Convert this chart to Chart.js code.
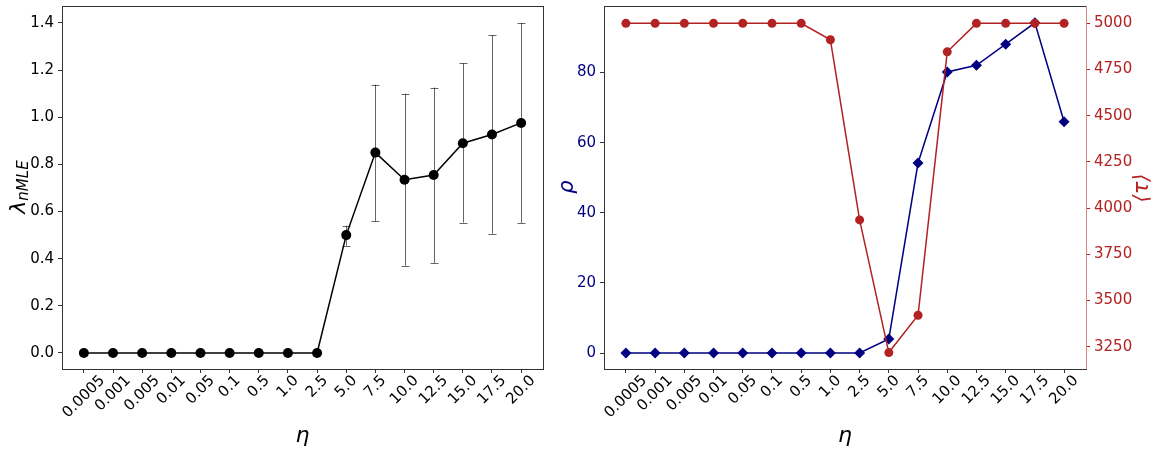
<!DOCTYPE html>
<html>
<head>
<meta charset="utf-8">
<script src="https://cdn.jsdelivr.net/npm/chart.js@4/dist/chart.umd.min.js"></script>
<style>
  html, body { margin: 0; padding: 0; background: #fff; }
  body { width: 1163px; height: 456px; position: relative; overflow: hidden; }
  canvas { position: absolute; top: 0; }
  #left { left: 0; }
  #right { left: 560px; }
</style>
</head>
<body>
<canvas id="left" width="560" height="456"></canvas>
<canvas id="right" width="603" height="456"></canvas>
<script>
// ---- data ----
const etaLabels = ["0.0005","0.001","0.005","0.01","0.05","0.1","0.5","1.0","2.5","5.0","7.5","10.0","12.5","15.0","17.5","20.0"];
const lambdaMean = [0,0,0,0,0,0,0,0,0,0.50,0.85,0.735,0.755,0.89,0.927,0.976];
const lambdaLow  = [null,null,null,null,null,null,null,null,null,0.455,0.559,0.370,0.382,0.553,0.506,0.552];
const lambdaHigh = [null,null,null,null,null,null,null,null,null,0.540,1.138,1.100,1.126,1.229,1.348,1.399];
const rhoValues  = [0,0,0,0,0,0,0,0,0,4,54.2,80.2,82.1,88.1,94.2,66.0];
const tauValues  = [5000,5000,5000,5000,5000,5000,5000,4911,3936,3218,3420,4846,5000,5000,5000,5000];
const lambdaTicks = [0,0.2,0.4,0.6,0.8,1.0,1.2,1.4];
const rhoTicks = [0,20,40,60,80];
const tauTicks = [3250,3500,3750,4000,4250,4500,4750,5000];

const NAVY = '#000080';
const RED = '#b22222';
const SPINE = '#333333';
const FONT = 'DejaVu Sans';

function pts(arr){ return arr.map((v,i)=>({x:i,y:v})); }

function fixedScale(w, h){
  return function(s){
    if (w !== undefined) s.width = w;
    if (h !== undefined) s.height = h;
    s.paddingTop = 0; s.paddingBottom = 0; s.paddingLeft = 0; s.paddingRight = 0;
  };
}

function xScale(height){
  return {
    type: 'linear', min: -0.75, max: 15.75,
    afterBuildTicks: s => { s.ticks = etaLabels.map((_, i) => ({value: i})); },
    afterFit: fixedScale(undefined, height),
    ticks: { display: false, autoSkip: false, callback: v => etaLabels[v] },
    grid: {drawOnChartArea: false, drawTicks: true, tickLength: 4, tickColor: SPINE},
    border: {display: true, color: SPINE, width: 1}
  };
}

function yScale(opts){
  return {
    type: 'linear', position: opts.position, min: opts.min, max: opts.max,
    afterBuildTicks: s => { s.ticks = opts.ticks.map(v => ({value: v})); },
    afterFit: fixedScale(opts.width, undefined),
    ticks: {
      padding: 4, color: opts.color, font: {family: FONT, size: 15},
      callback: opts.cb
    },
    grid: {drawOnChartArea: false, drawTicks: true, tickLength: 4, tickColor: opts.tickColor || SPINE},
    border: {display: true, color: opts.borderColor || SPINE, width: 1}
  };
}

// rotated, centre-aligned x tick labels (matplotlib style), positioned by the x scale
const xLabels = {
  id: 'xLabels',
  afterDraw(chart){
    const ctx = chart.ctx, xs = chart.scales.x, a = chart.chartArea;
    ctx.save();
    ctx.fillStyle = '#000';
    ctx.font = '15px "' + FONT + '"';
    ctx.textAlign = 'center'; ctx.textBaseline = 'middle';
    const h = 15, top = a.bottom + 4;
    xs.ticks.forEach(t => {
      const label = etaLabels[t.value];
      const w = ctx.measureText(label).width;
      const x = xs.getPixelForValue(t.value);
      const cy = top + (w + h) * Math.SQRT1_2 / 2;
      ctx.save();
      ctx.translate(x, cy);
      ctx.rotate(-Math.PI / 4);
      ctx.fillText(label, 0, 0);
      ctx.restore();
    });
    ctx.restore();
  }
};

// error bars plugin (left)
const errorBars = {
  id: 'errorBars',
  beforeDatasetsDraw(chart){
    const ctx = chart.ctx, xs = chart.scales.x, ys = chart.scales.y;
    ctx.save();
    ctx.strokeStyle = 'rgba(0,0,0,0.6)';
    ctx.lineWidth = 1;
    for (let i = 0; i < etaLabels.length; i++){
      if (lambdaLow[i] === null) continue;
      const x = Math.round(xs.getPixelForValue(i)) + 0.5;
      const y1 = ys.getPixelForValue(lambdaLow[i]);
      const y2 = ys.getPixelForValue(lambdaHigh[i]);
      ctx.beginPath();
      ctx.moveTo(x, y1); ctx.lineTo(x, y2);
      ctx.moveTo(x-4, Math.round(y1)+0.5); ctx.lineTo(x+4, Math.round(y1)+0.5);
      ctx.moveTo(x-4, Math.round(y2)+0.5); ctx.lineTo(x+4, Math.round(y2)+0.5);
      ctx.stroke();
    }
    ctx.restore();
  }
};

const leftDecor = {
  id: 'leftDecor',
  afterDraw(chart){
    const ctx = chart.ctx, a = chart.chartArea;
    ctx.save();
    ctx.strokeStyle = SPINE; ctx.lineWidth = 1;
    ctx.beginPath();
    ctx.moveTo(a.left, Math.round(a.top)+0.5); ctx.lineTo(a.right, Math.round(a.top)+0.5);
    ctx.moveTo(Math.round(a.right)+0.5, a.top); ctx.lineTo(Math.round(a.right)+0.5, a.bottom);
    ctx.stroke();
    // x title
    ctx.fillStyle = '#000';
    ctx.font = 'italic 22px "' + FONT + '"';
    ctx.textAlign = 'center'; ctx.textBaseline = 'alphabetic';
    ctx.fillText('η', (a.left + a.right)/2, 442);
    // y title lambda_nMLE
    ctx.translate(0, 187);
    ctx.rotate(-Math.PI/2);
    const f1 = 'italic 22px "' + FONT + '"', f2 = 'italic 15px "' + FONT + '"';
    ctx.font = f1; const w1 = ctx.measureText('λ').width;
    ctx.font = f2; const w2 = ctx.measureText('nMLE').width;
    const x0 = -(w1 + w2)/2;
    ctx.textAlign = 'left';
    ctx.font = f1; ctx.fillText('λ', x0, 25);
    ctx.font = f2; ctx.fillText('nMLE', x0 + w1, 28);
    ctx.restore();
  }
};

const rightDecor = {
  id: 'rightDecor',
  afterDraw(chart){
    const ctx = chart.ctx, a = chart.chartArea;
    ctx.save();
    ctx.strokeStyle = SPINE; ctx.lineWidth = 1;
    ctx.beginPath();
    ctx.moveTo(a.left, Math.round(a.top)+0.5); ctx.lineTo(a.right, Math.round(a.top)+0.5);
    ctx.stroke();
    ctx.fillStyle = '#000';
    ctx.font = 'italic 22px "' + FONT + '"';
    ctx.textAlign = 'center'; ctx.textBaseline = 'alphabetic';
    ctx.fillText('η', (a.left + a.right)/2, 442);
    // rho title
    ctx.save();
    ctx.translate(0, 187); ctx.rotate(-Math.PI/2);
    ctx.fillStyle = NAVY; ctx.font = 'italic 21px "' + FONT + '"';
    ctx.textAlign = 'center';
    ctx.fillText('ρ', 0, 13);
    ctx.restore();
    // tau title
    ctx.save();
    ctx.translate(603, 188); ctx.rotate(-Math.PI/2);
    ctx.fillStyle = RED; ctx.font = 'italic 21px "' + FONT + '"';
    ctx.textAlign = 'center';
    ctx.fillText('⟨τ⟩', 0, -15);
    ctx.restore();
    ctx.restore();
  }
};

const common = {
  responsive: false, animation: false, devicePixelRatio: 1,
  plugins: {legend: {display: false}, tooltip: {enabled: false}, title: {display: false}}
};

new Chart(document.getElementById('left'), {
  type: 'line',
  data: {datasets: [{
    data: pts(lambdaMean), borderColor: '#000', backgroundColor: '#000',
    borderWidth: 1.5, pointRadius: 5, pointBorderWidth: 0, tension: 0
  }]},
  options: Object.assign({}, common, {
    layout: {padding: {left: 0, top: 6, right: 17, bottom: 0}},
    scales: {
      x: xScale(87),
      y: yScale({position: 'left', min: -0.068, max: 1.472, ticks: lambdaTicks, width: 62, color: '#000',
                 cb: v => v.toFixed(1)})
    }
  }),
  plugins: [errorBars, leftDecor, xLabels]
});

new Chart(document.getElementById('right'), {
  type: 'line',
  data: {datasets: [
    {data: pts(tauValues), yAxisID: 'y2', borderColor: RED, backgroundColor: RED,
     borderWidth: 1.5, pointRadius: 4.5, pointBorderWidth: 0, tension: 0},
    {data: pts(rhoValues), yAxisID: 'y', borderColor: NAVY, backgroundColor: NAVY,
     borderWidth: 1.5, pointStyle: 'rectRot', pointRadius: 5.5, pointBorderWidth: 0, tension: 0}
  ]},
  options: Object.assign({}, common, {
    layout: {padding: {left: 0, top: 6, right: 0, bottom: 0}},
    scales: {
      x: xScale(87),
      y: yScale({position: 'left', min: -4.56, max: 99.0, ticks: rhoTicks, width: 44, color: NAVY,
                 cb: v => String(v)}),
      y2: yScale({position: 'right', min: 3129, max: 5094, ticks: tauTicks, width: 77, color: RED,
                  tickColor: RED, borderColor: 'rgba(178,34,34,0.55)', cb: v => String(v)})
    }
  }),
  plugins: [rightDecor, xLabels]
});
</script>
</body>
</html>
